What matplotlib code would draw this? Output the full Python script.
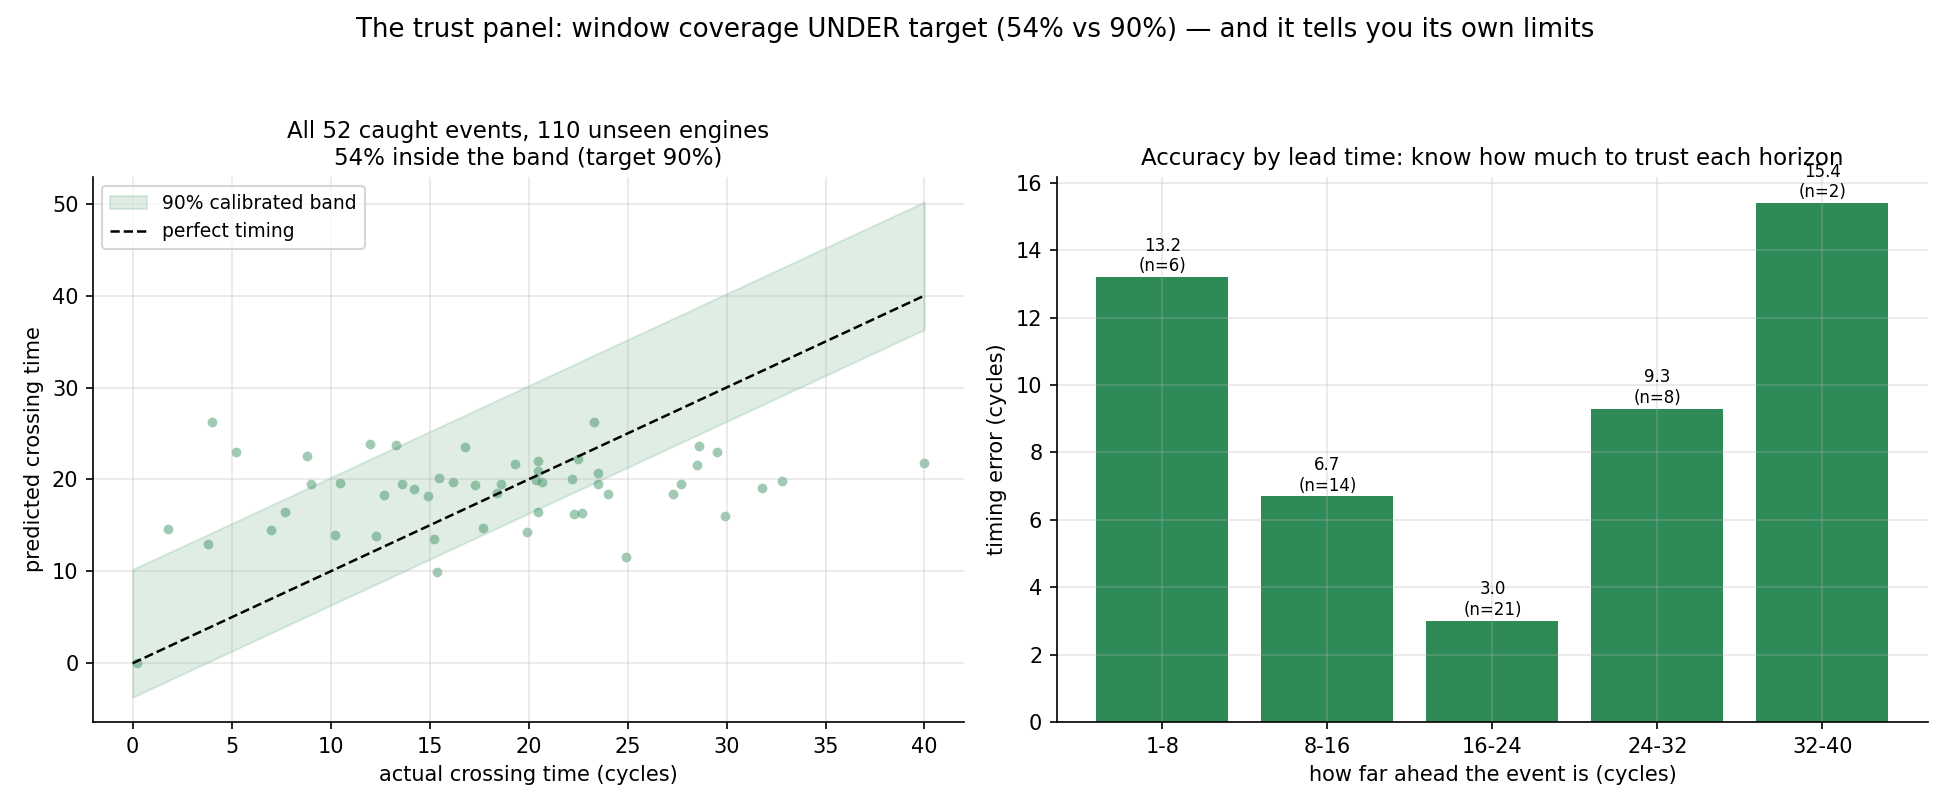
import matplotlib
matplotlib.use("Agg")
import matplotlib.pyplot as plt
import numpy as np

# scatter: actual vs predicted crossing time (52 caught events)
actual = [0.2, 1.8, 4.0, 3.8, 5.2, 7.0, 7.7, 8.8, 9.0, 10.2, 10.5, 12.0, 12.3, 12.7,
          13.3, 13.6, 14.2, 14.9, 15.2, 15.4, 15.5, 16.2, 16.8, 17.3, 17.7, 18.6,
          18.4, 19.3, 19.9, 20.5, 20.5, 20.4, 20.7, 20.5, 22.5, 22.2, 22.3, 22.7,
          23.3, 23.5, 23.5, 24.0, 24.9, 27.3, 27.7, 28.5, 28.6, 29.5, 29.9, 31.8,
          32.8, 40.0]
predicted = [0.0, 14.6, 26.3, 13.0, 23.0, 14.5, 16.5, 22.6, 19.5, 14.0, 19.6, 23.8,
             13.8, 18.3, 23.7, 19.5, 19.0, 18.2, 13.5, 9.9, 20.2, 19.7, 23.5, 19.4,
             14.7, 19.5, 18.5, 21.7, 14.3, 22.0, 20.9, 19.9, 19.7, 16.5, 22.2, 20.0,
             16.2, 16.3, 26.3, 20.7, 19.5, 18.4, 11.6, 18.4, 19.5, 21.6, 23.6, 23.0,
             16.0, 19.1, 19.8, 21.8]

# calibrated band around the perfect-timing line
band_x = [0, 40]
band_lo = [-3.7, 36.3]
band_hi = [10.2, 50.2]

# accuracy by lead time
bins = ["1-8", "8-16", "16-24", "24-32", "32-40"]
err = [13.2, 6.7, 3.0, 9.3, 15.4]
counts = [6, 14, 21, 8, 2]

green = "#2e8b57"

fig = plt.figure(figsize=(13, 5.4), dpi=150)
ax1 = fig.add_axes([0.0477, 0.1086, 0.4467, 0.6728])
ax2 = fig.add_axes([0.542, 0.1086, 0.4467, 0.6728])

# ---- left panel
ax1.fill_between(band_x, band_lo, band_hi, color=green, alpha=0.15,
                 label="90% calibrated band")
ax1.scatter(actual, predicted, s=22, color=green, alpha=0.45, linewidths=0)
ax1.plot(band_x, band_x, "k--", lw=1.2, label="perfect timing")
ax1.set_xlabel("actual crossing time (cycles)")
ax1.set_ylabel("predicted crossing time")
ax1.set_title("All 52 caught events, 110 unseen engines\n54% inside the band (target 90%)",
              fontsize=11)
ax1.legend(loc="upper left", fontsize=9)
ax1.grid(True, alpha=0.3)

# ---- right panel
pos = np.arange(len(bins))
ax2.bar(pos, err, color=green, width=0.8)
for p, v, n in zip(pos, err, counts):
    ax2.text(p, v + 0.05, f"{v:.1f}\n(n={n})", ha="center", va="bottom", fontsize=8)
ax2.set_xticks(pos)
ax2.set_xticklabels(bins)
ax2.set_xlabel("how far ahead the event is (cycles)")
ax2.set_ylabel("timing error (cycles)")
ax2.set_title("Accuracy by lead time: know how much to trust each horizon", fontsize=11)
ax2.grid(True, alpha=0.3)

for ax in (ax1, ax2):
    ax.spines["top"].set_visible(False)
    ax.spines["right"].set_visible(False)

fig.suptitle("The trust panel: window coverage UNDER target (54% vs 90%) \u2014 and it tells you its own limits",
             fontsize=12.5, y=0.979)

fig.savefig("out.png", dpi=150)
